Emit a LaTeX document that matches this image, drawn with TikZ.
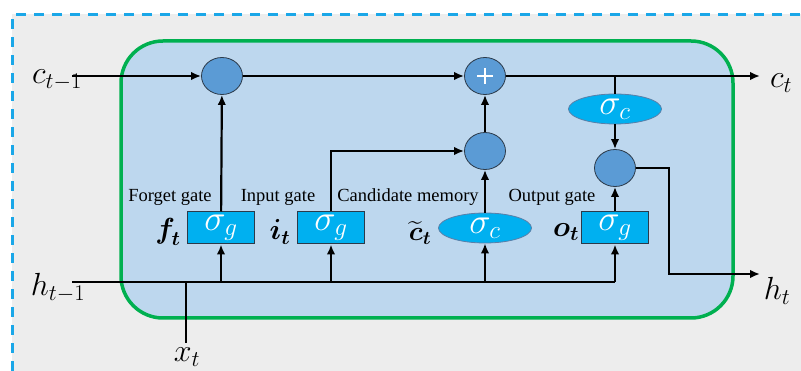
\RequirePackage{fix-cm}
\documentclass[tikz,border=0pt]{standalone}
\usepackage{amsmath}
\usepackage{fontspec}
\newfontfamily\gatefont{Liberation Serif}
\usetikzlibrary{shapes.geometric,arrows.meta,calc}
\definecolor{panelgray}{HTML}{EDEDED}
\definecolor{dashblue}{HTML}{1AA7E8}
\definecolor{cellfill}{HTML}{BDD7EE}
\definecolor{cellgreen}{HTML}{00B050}
\definecolor{opblue}{HTML}{5B9BD5}
\definecolor{gatecyan}{HTML}{00B0F0}
\definecolor{edgedark}{HTML}{2B3A4A}
\definecolor{elledge}{HTML}{5A7FA8}
\begin{document}
\begin{tikzpicture}[x=1pt,y=-1pt,
  >={Latex[length=10pt,width=8.5pt]},
  wire/.style={line width=2.2pt,draw=black},
  mult/.style={ellipse,draw=edgedark,line width=0.8pt,fill=opblue,
    minimum width=41pt,minimum height=37pt,inner sep=0pt},
  gatebox/.style={rectangle,draw=edgedark,line width=1pt,fill=gatecyan,
    minimum width=67pt,minimum height=32pt,inner sep=0pt,text=white,
    font=\fontsize{36}{36}\selectfont},
  actell/.style={ellipse,draw=elledge,line width=0.8pt,fill=gatecyan,
    minimum width=93pt,minimum height=30pt,inner sep=0pt,text=white,
    font=\fontsize{36}{36}\selectfont},
  gatename/.style={font=\gatefont\fontsize{18.5}{20}\selectfont,inner sep=0pt},
  sym/.style={font=\fontsize{32}{32}\selectfont,inner sep=0pt},
  gsym/.style={font=\fontsize{29}{29}\selectfont,inner sep=0pt}
]
% canvas and dashed frame
\fill[white] (0,0) rectangle (801,371);
\fill[panelgray] (12,14) rectangle (801,371);
\useasboundingbox (0,0) rectangle (801,371);
\draw[dashblue,line width=3pt,dash pattern=on 10pt off 8pt] (12.5,371) -- (12.5,14.5) -- (801,14.5);

% LSTM cell body
\draw[cellgreen,line width=3.5pt,fill=cellfill,rounded corners=42pt] (121,41) rectangle (733,318);

% operators
\node[mult] (m1) at (222,76) {};
\node[mult] (plus) at (485,76) {};
\draw[white,line width=1.6pt] ($(plus)+(-8,0)$) -- ++(16,0) ($(plus)+(0,-8)$) -- ++(0,16);
\node[mult] (m2) at (485,151) {};
\node[mult] (m3) at (615,168) {};

% gates
\node[gatebox] (fg) at (221,228) {\raisebox{4pt}{$\sigma_g$}};
\node[gatebox] (ig) at (331,228) {\raisebox{4pt}{$\sigma_g$}};
\node[actell] (cg) at (485,228) {\raisebox{3pt}{$\sigma_c$}};
\node[gatebox] (og) at (615,228) {\raisebox{4pt}{$\sigma_g$}};
\node[actell] (ca) at (615,109) {\raisebox{3pt}{$\sigma_c$}};

% free ends
\coordinate (cin) at (72,76);
\coordinate (cout) at (760,76);
\coordinate (hin) at (72,282);
\coordinate (hout) at (760,274);
\coordinate (xin) at (186,343);
\coordinate (hend) at (615,282);

% cell state path
\draw[wire,->] (cin) -- (m1);
\draw[wire,->] (m1) -- (plus);
\draw[wire,->] (plus) -- (cout);
\draw[wire] (ca.north |- cout) -- (ca.north);
\draw[wire,->] (ca) -- (m3);
\draw[wire,->] (m3.east) -- (669,168) -- (669,274) -- (hout);

% gate outputs
\draw[wire,->] (fg) -- (m1);
\draw[wire,->] (ig.north) -- (331,151) -- (m2);
\draw[wire,->] (cg) -- (m2);
\draw[wire,->] (m2) -- (plus);
\draw[wire,->] (og) -- (m3);

% hidden state and input bus
\draw[wire] (hin) -- (hend);
\draw[wire] (xin) -- (186,282);
\draw[wire,->] (fg.south |- hin) -- (fg);
\draw[wire,->] (ig.south |- hin) -- (ig);
\draw[wire,->] (cg.south |- hin) -- (cg);
\draw[wire,->] (hend) -- (og);

% labels
\node[sym] (lcin) at (57,80) {$c_{t-1}$};
\node[sym] (lcout) at (781,83) {$c_t$};
\node[sym] (lhin) at (58,288) {$h_{t-1}$};
\node[sym] (lhout) at (777,291) {$h_t$};
\node[sym] (lx) at (187,357) {$x_t$};
\node[gsym] (lf) at (168,232) {$\boldsymbol{f}_{\!\boldsymbol{t}}$};
\node[gsym] (li) at (280,232) {$\boldsymbol{i}_{\boldsymbol{t}}$};
\node[gsym,font=\fontsize{27}{27}\selectfont] (lc) at (420,233) {$\widetilde{\boldsymbol{c}}_{\boldsymbol{t}}$};
\node[gsym] (lo) at (566,232) {$\boldsymbol{o}_{\boldsymbol{t}}$};
\node[gatename] (nf) at (170,197) {Forget gate};
\node[gatename] (ni) at (278,197) {Input gate};
\node[gatename] (nc) at (408,197) {Candidate memory};
\node[gatename] (no) at (552,197) {Output gate};
\end{tikzpicture}
\end{document}
